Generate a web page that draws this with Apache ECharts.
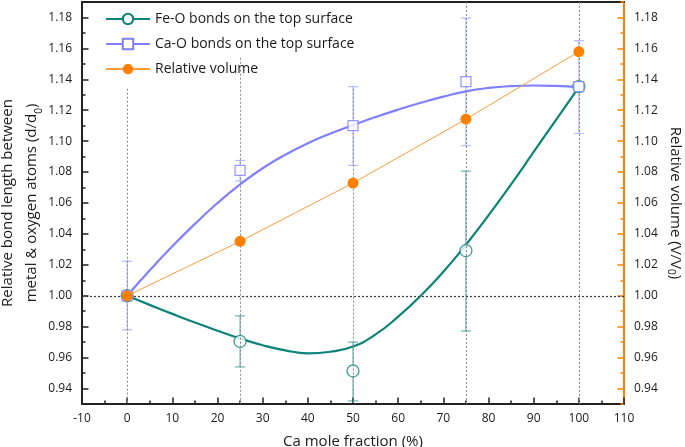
<!DOCTYPE html>
<html>
<head>
<meta charset="utf-8">
<script src="https://cdn.jsdelivr.net/npm/echarts@6/dist/echarts.min.js"></script>
<style>
html,body{margin:0;padding:0;background:#fff;}
#chart{width:685px;height:447px;}
</style>
</head>
<body>
<div id="chart"></div>
<script>
// ---- data ----
const measuredX = [0, 25, 50, 75, 100];
const feO      = [1.000, 0.9705, 0.9514, 1.0292, 1.1353];
const feOLow   = [null, 0.954, 0.932, 0.9772, null];
const feOHigh  = [null, 0.987, 0.970, 1.0806, null];
const caO      = [1.000, 1.0811, 1.1101, 1.1385, 1.1353];
const caOLow   = [0.978, 1.0742, 1.0843, 1.097, 1.105];
const caOHigh  = [1.0223, 1.0875, 1.1353, 1.1796, 1.165];
const relVolume = [1.000, 1.0352, 1.0729, 1.1142, 1.1579];

// fitted curves
const fitX   = [0, 5, 10, 15, 20, 25, 30, 35, 40, 45, 50, 55, 60, 65, 70, 75, 80, 85, 90, 95, 100];
const feOFit = [1.0000, 0.9941, 0.9883, 0.9827, 0.9774, 0.9724, 0.9680, 0.9647, 0.9628, 0.9638, 0.9672, 0.9750, 0.9865, 1.0000, 1.0155, 1.0330, 1.0520, 1.0720, 1.0930, 1.1140, 1.1350];
const caOFit = [1.0000, 1.0165, 1.0320, 1.0465, 1.0600, 1.0720, 1.0825, 1.0912, 1.0986, 1.1049, 1.1104, 1.1156, 1.1204, 1.1248, 1.1288, 1.1322, 1.1344, 1.1356, 1.1360, 1.1357, 1.1350];

const guideTops = [1.134, 1.154, 1.134, 1.19, 1.19];
const yMajorTicks = ['0.94','0.96','0.98','1.00','1.02','1.04','1.06','1.08','1.10','1.12','1.14','1.16','1.18'];
const yMinorTicks = ['0.93','0.95','0.97','0.99','1.01','1.03','1.05','1.07','1.09','1.11','1.13','1.15','1.17','1.19'];

const names = ['Fe-O bonds on the top surface', 'Ca-O bonds on the top surface', 'Relative volume'];
const TEAL = '#0b847a', BLUE = '#7f7fff', ORANGE = '#ff8000';
const FONT = 'Open Sans';
const Y_MIN = 0.93, Y_MAX = 1.19;

const majorVals = yMajorTicks.map(Number);
const minorVals = yMinorTicks.map(Number);

function errData(low, high) {
  const out = [];
  measuredX.forEach((x, i) => { if (low[i] != null) out.push([x, low[i], high[i]]); });
  return out;
}
function errRender(color) {
  return function (params, api) {
    const x = api.value(0);
    const lo = api.coord([x, api.value(1)]);
    const hi = api.coord([x, api.value(2)]);
    const w = 5;
    const st = { stroke: color, lineWidth: 1.2 };
    return { type: 'group', children: [
      { type: 'line', shape: { x1: lo[0], y1: lo[1], x2: hi[0], y2: hi[1] }, style: st },
      { type: 'line', shape: { x1: lo[0]-w, y1: lo[1], x2: lo[0]+w, y2: lo[1] }, style: st },
      { type: 'line', shape: { x1: hi[0]-w, y1: hi[1], x2: hi[0]+w, y2: hi[1] }, style: st }
    ]};
  };
}

function yAxisDef(pos, minor) {
  const right = pos === 'right';
  const lineColor = right ? ORANGE : '#222';
  return {
    type: 'value', position: pos, min: Y_MIN, max: Y_MAX,
    splitLine: { show: false },
    axisLine: { show: !minor, onZero: false, lineStyle: { color: lineColor, width: 2 } },
    axisTick: { show: true, inside: true, length: minor ? 3.5 : 6.5,
      customValues: minor ? minorVals : majorVals,
      lineStyle: { color: lineColor, width: 1.5 } },
    axisLabel: { show: !minor, customValues: majorVals, margin: 10,
      formatter: v => v.toFixed(2), color: '#1a1a1a', fontFamily: FONT, fontSize: 12 }
  };
}

const leftY = yAxisDef('left', false);
leftY.name = '{t|Relative bond length between}\n{t|metal & oxygen atoms (d/d}{s|0}{t|)}';
leftY.nameLocation = 'middle';
leftY.nameRotate = 90;
leftY.nameGap = 38;
leftY.nameMoveOverlap = false;
leftY.nameTextStyle = { fontFamily: FONT, color: '#1a1a1a', lineHeight: 24,
  rich: { t: { fontSize: 15, fontFamily: FONT, color: '#1a1a1a', lineHeight: 24 },
          s: { fontSize: 10, fontFamily: FONT, color: '#1a1a1a', verticalAlign: 'bottom', lineHeight: 24, padding: [9, 0, 0, 0] } } };

const rightY = yAxisDef('right', false);
rightY.name = '{t|Relative volume (V/V}{s|0}{t|)}';
rightY.nameLocation = 'middle';
rightY.nameRotate = -90;
rightY.nameGap = 42;
rightY.nameMoveOverlap = false;
rightY.nameTextStyle = { fontFamily: FONT, color: '#1a1a1a',
  rich: { t: { fontSize: 15, fontFamily: FONT, color: '#1a1a1a' },
          s: { fontSize: 10, fontFamily: FONT, color: '#1a1a1a', verticalAlign: 'bottom', padding: [9, 0, 0, 0] } } };

const guideLines = measuredX.map((x, i) => [{ coord: [x, guideTops[i]] }, { coord: [x, Y_MIN] }]);

const option = {
  animation: false,
  backgroundColor: '#fff',
  grid: { left: 82, right: 61, top: 2, bottom: 43, containLabel: false, outerBoundsMode: 'none' },
  legend: {
    orient: 'vertical', left: 100, top: 7,
    itemWidth: 44, itemHeight: 13, itemGap: 11,
    data: names,
    textStyle: { fontFamily: FONT, fontSize: 14, color: '#1a1a1a' }
  },
  xAxis: [{
    type: 'value', min: -10, max: 110, interval: 10,
    name: 'Ca mole fraction (%)', nameLocation: 'middle', nameGap: 30,
    nameTextStyle: { fontFamily: FONT, fontSize: 15, color: '#1a1a1a' },
    splitLine: { show: false },
    axisLine: { onZero: false, lineStyle: { color: '#222', width: 2 } },
    axisTick: { inside: true, length: 6.5, lineStyle: { color: '#222', width: 1.5 } },
    minorTick: { show: true, splitNumber: 2, length: 3.5, lineStyle: { color: '#222', width: 1.5 } },
    axisLabel: { margin: 9, color: '#1a1a1a', fontFamily: FONT, fontSize: 12 }
  }, {
    type: 'value', position: 'top', min: -10, max: 110,
    axisLine: { onZero: false, lineStyle: { color: '#222', width: 2 } },
    axisTick: { show: false }, axisLabel: { show: false }, splitLine: { show: false }
  }],
  yAxis: [leftY, yAxisDef('left', true), rightY, yAxisDef('right', true)],
  series: [
    { // vertical guide lines
      type: 'line', data: [], silent: true, yAxisIndex: 0,
      markLine: { silent: true, symbol: 'none', label: { show: false },
        lineStyle: { color: '#8a8a8a', type: [2, 2], width: 1 },
        data: guideLines }
    },
    { // reference line at 1.00
      type: 'line', data: [], silent: true, yAxisIndex: 0,
      markLine: { silent: true, symbol: 'none', label: { show: false },
        lineStyle: { color: '#3a3a3a', type: [2, 2], width: 1.2 },
        data: [[{ coord: [-10, 1.0] }, { coord: [110, 1.0] }]] }
    },
    {
      name: names[0], type: 'line', smooth: true, yAxisIndex: 0,
      data: fitX.map((x, i) => [x, feOFit[i]]),
      symbol: 'emptyCircle', symbolSize: 11, showSymbol: false,
      lineStyle: { color: TEAL, width: 2.2 }, itemStyle: { color: TEAL, borderColor: TEAL, borderWidth: 1.3 }, z: 3
    },
    {
      name: names[1], type: 'line', smooth: true, yAxisIndex: 0,
      data: fitX.map((x, i) => [x, caOFit[i]]),
      symbol: 'emptyRect', symbolSize: 10, showSymbol: false,
      lineStyle: { color: BLUE, width: 2.2 }, itemStyle: { color: BLUE, borderColor: BLUE, borderWidth: 1.3 }, z: 3
    },
    {
      name: names[2], type: 'line', yAxisIndex: 2,
      data: measuredX.map((x, i) => [x, relVolume[i]]),
      symbol: 'circle', symbolSize: 11, showSymbol: true,
      lineStyle: { color: '#ff9a3c', width: 1 }, itemStyle: { color: ORANGE }, z: 6
    },
    { type: 'custom', yAxisIndex: 0, renderItem: errRender('rgba(11,132,122,0.6)'), data: errData(feOLow, feOHigh), z: 2, silent: true },
    { type: 'custom', yAxisIndex: 0, renderItem: errRender('rgba(127,127,255,0.55)'), data: errData(caOLow, caOHigh), z: 2, silent: true },
    {
      type: 'scatter', yAxisIndex: 0, data: measuredX.map((x, i) => [x, feO[i]]),
      symbol: 'circle', symbolSize: 12,
      itemStyle: { color: '#fff', borderColor: TEAL, borderWidth: 1.3 }, z: 4
    },
    {
      type: 'scatter', yAxisIndex: 0, data: measuredX.map((x, i) => [x, caO[i]]),
      symbol: 'rect', symbolSize: 10,
      itemStyle: { color: '#fff', borderColor: BLUE, borderWidth: 1.3 }, z: 5
    }
  ]
};

const chart = echarts.init(document.getElementById('chart'), null, { renderer: 'canvas' });
chart.setOption(option);
</script>
</body>
</html>
